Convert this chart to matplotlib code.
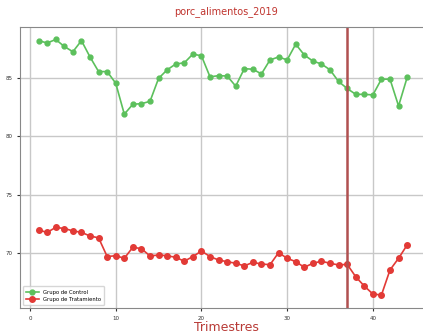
import matplotlib
matplotlib.use('Agg')
import matplotlib.pyplot as plt

# trimestres 1..44
trimestres = list(range(1, 45))

grupo_control = [88.2, 88.0, 88.3, 87.7, 87.25, 88.2, 86.8, 85.55, 85.55, 84.55,
                 81.9, 82.75, 82.8, 83.0, 84.97, 85.7, 86.2, 86.3, 87.05, 86.9,
                 85.1, 85.2, 85.17, 84.3, 85.8, 85.75, 85.35, 86.55, 86.8, 86.55,
                 87.9, 86.97, 86.45, 86.2, 85.7, 84.7, 84.1, 83.6, 83.6, 83.55,
                 84.9, 84.9, 82.6, 85.05]

grupo_tratamiento = [71.97, 71.77, 72.2, 72.1, 71.9, 71.77, 71.46, 71.3, 69.7, 69.77,
                     69.55, 70.5, 70.37, 69.75, 69.83, 69.77, 69.63, 69.3, 69.7, 70.17,
                     69.7, 69.4, 69.26, 69.12, 68.9, 69.2, 69.06, 69.0, 70.03, 69.55,
                     69.26, 68.78, 69.12, 69.3, 69.12, 68.98, 69.03, 67.97, 67.17, 66.49,
                     66.4, 68.55, 69.55, 70.69]

x_ticks = [0, 10, 20, 30, 40]
y_ticks = [70, 75, 80, 85]
corte = 37

fig = plt.figure(figsize=(4.23, 3.35), dpi=100)
ax = fig.add_axes([20/423, (335-308)/335, 412/423, 281/335])

ax.plot(trimestres, grupo_control, color='#5cc05c', marker='o', markersize=3.5,
        linewidth=1.2, label='Grupo de Control')
ax.plot(trimestres, grupo_tratamiento, color='#e23a36', marker='o', markersize=4,
        linewidth=1.2, label='Grupo de Tratamiento')
ax.axvline(corte, color='#b05050', linewidth=1.8)

ax.set_xlim(-1.17, 46.9)
ax.set_ylim(65.29, 89.37)
ax.set_xticks(x_ticks)
ax.set_yticks(y_ticks)
ax.tick_params(labelsize=4, length=2, colors='#333333')
ax.grid(True, color='#c8c8c8', linewidth=1)
ax.set_axisbelow(True)
for s in ['left', 'bottom', 'top']:
    ax.spines[s].set_color('#888888')
ax.spines['right'].set_visible(False)

ax.set_title('porc_alimentos_2019', color='#c0342e', fontsize=7, pad=9)
ax.set_xlabel('Trimestres', color='#b83a36', fontsize=9, labelpad=0)

ax.legend(loc='lower left', fontsize=3.8, frameon=True, borderpad=0.6,
          handlelength=2.5, labelspacing=0.5)

fig.savefig('out.png', dpi=100)
